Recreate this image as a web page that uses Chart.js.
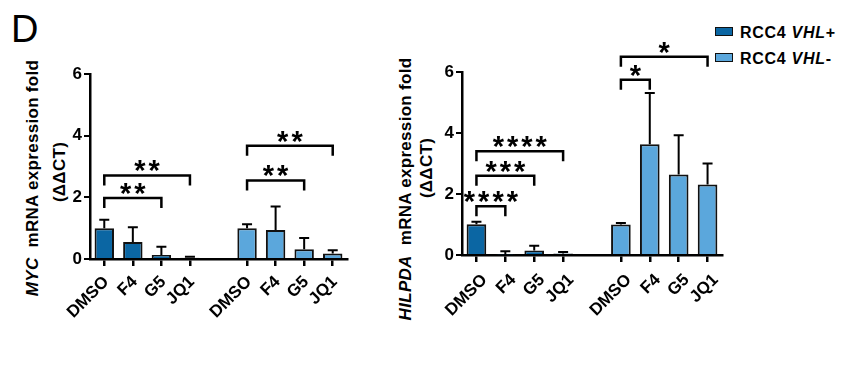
<!DOCTYPE html>
<html>
<head>
<meta charset="utf-8">
<script src="https://cdn.jsdelivr.net/npm/chart.js@4.4.1/dist/chart.umd.min.js"></script>
<style>
    html, body { margin: 0; padding: 0; background: #fff; }
    #fig { position: relative; width: 859px; height: 371px; overflow: hidden; font-family: "Liberation Sans", Arial, sans-serif; color: #000; }
    canvas { position: absolute; top: 0; }
    #c1 { left: 0; }
    #c2 { left: 380px; }
    .panel { position: absolute; left: 11px; top: 10px; font-size: 38px; line-height: 1; }
    .ytitle { position: absolute; white-space: nowrap; font-size: 17px; font-weight: bold; letter-spacing: 0.3px; line-height: 1; transform: translate(-50%, -50%) rotate(-90deg); }
    .legend { position: absolute; left: 715px; font-size: 16px; font-weight: bold; letter-spacing: 0.7px; line-height: 1; }
    .legend .box { display: inline-block; width: 16px; height: 7px; border: 1.5px solid #111; vertical-align: middle; margin-right: 7px; position: relative; top: -2px; }
</style>
</head>
<body>
<div id="fig">
    <div class="panel">D</div>
    <div class="ytitle" style="left:32px; top:178px;"><i>MYC</i>&nbsp; mRNA expression fold</div>
    <div class="ytitle" style="left:59px; top:172px;">(ΔΔCT)</div>
    <div class="ytitle" style="left:405px; top:189px;"><i>HILPDA</i>&nbsp; mRNA expression fold</div>
    <div class="ytitle" style="left:426px; top:168px;">(ΔΔCT)</div>
    <div class="legend" style="top:25px;"><span class="box" style="background:#0b66a3"></span>RCC4 <i>VHL</i>+</div>
    <div class="legend" style="top:51px;"><span class="box" style="background:#5ba7dc"></span>RCC4 <i>VHL</i>-</div>
    <canvas id="c1" width="420" height="371"></canvas>
    <canvas id="c2" width="479" height="371"></canvas>
</div>
<script>
// treatments per cell line, blank slot separates the two groups
const treatments = ['DMSO', 'F4', 'G5', 'JQ1'];
const categories = [...treatments, '', ...treatments];
const yTicks = [0, 2, 4, 6];

// MYC
const mycPlus = [1.0, 0.55, 0.13, 0.04];
const mycPlusErr = [0.27, 0.48, 0.27, 0.03];
const mycMinus = [1.0, 0.94, 0.32, 0.18];
const mycMinusErr = [0.13, 0.76, 0.36, 0.10];
// [from category, to category, y value, stars]
const mycBrackets = [[0, 2, 1.98, '**'], [0, 3, 2.71, '**'], [5, 7, 2.55, '**'], [5, 8, 3.67, '**']];

// HILPDA
const hilPlus = [1.01, 0.02, 0.15, 0.05];
const hilPlusErr = [0.08, 0.10, 0.15, 0.05];
const hilMinus = [1.0, 3.63, 2.64, 2.31];
const hilMinusErr = [0.05, 1.68, 1.29, 0.69];
const hilBrackets = [[0, 1, 1.6, '****'], [0, 2, 2.6, '***'], [0, 3, 3.4, '****'], [5, 6, 5.75, '*'], [5, 8, 6.5, '*']];

const seriesLabels = ['RCC4 VHL+', 'RCC4 VHL-'];
const darkBlue = '#0b66a3';
const lightBlue = '#5ba7dc';

const gap = [null];
const padLeft = vals => [...vals, ...gap, ...vals.map(() => null)];
const padRight = vals => [...vals.map(() => null), ...gap, ...vals];

const annotations = {
    id: 'annotations',
    afterDatasetsDraw(chart, args, opts) {
        const ctx = chart.ctx;
        const x = chart.scales.x, y = chart.scales.y;
        ctx.save();
        ctx.strokeStyle = '#000';
        ctx.lineWidth = 2;
        // error bars (upper only)
        chart.data.datasets.forEach((ds, di) => {
            const meta = chart.getDatasetMeta(di);
            ds.data.forEach((v, i) => {
                if (v == null) return;
                const bx = meta.data[i].x;
                const y0 = y.getPixelForValue(v);
                const y1 = y.getPixelForValue(v + ds.errors[i]);
                ctx.beginPath();
                ctx.moveTo(bx, y0);
                ctx.lineTo(bx, y1);
                ctx.moveTo(bx - 5, y1);
                ctx.lineTo(bx + 5, y1);
                ctx.stroke();
            });
        });
        // significance brackets
        ctx.lineWidth = 2.5;
        ctx.font = 'bold 29px "Liberation Sans", Arial';
        ctx.letterSpacing = '3px';
        ctx.textAlign = 'center';
        ctx.textBaseline = 'alphabetic';
        ctx.fillStyle = '#000';
        opts.brackets.forEach(([a, b, v, stars]) => {
            const xa = x.getPixelForValue(a), xb = x.getPixelForValue(b);
            const yy = y.getPixelForValue(v);
            ctx.beginPath();
            ctx.moveTo(xa, yy + 10);
            ctx.lineTo(xa, yy);
            ctx.lineTo(xb, yy);
            ctx.lineTo(xb, yy + 10);
            ctx.stroke();
            ctx.fillText(stars, (xa + xb) / 2 + 1.5, yy + 5);
        });
        ctx.restore();
    }
};

function makeChart(id, plus, plusErr, minus, minusErr, brackets, area) {
    const el = document.getElementById(id);
    return new Chart(el.getContext('2d'), {
        type: 'bar',
        data: {
            labels: categories,
            datasets: [
                { label: seriesLabels[0], data: padLeft(plus), errors: padLeft(plusErr), backgroundColor: darkBlue },
                { label: seriesLabels[1], data: padRight(minus), errors: padRight(minusErr), backgroundColor: lightBlue }
            ]
        },
        options: {
            responsive: false,
            devicePixelRatio: 1,
            animation: false,
            layout: { padding: { left: 0, top: area.top, right: el.width - area.right, bottom: el.height - area.bottom - 70 } },
            datasets: { bar: { grouped: false, barPercentage: 0.68, categoryPercentage: 1, borderColor: '#111', borderWidth: 2 } },
            plugins: { legend: { display: false }, tooltip: { enabled: false }, annotations: { brackets: brackets } },
            scales: {
                x: {
                    afterFit: s => { s.height = 70; },
                    grid: { offset: false, drawOnChartArea: false, tickLength: 7, lineWidth: 2.5, color: c => categories[c.index] === '' ? 'rgba(0,0,0,0)' : '#000' },
                    border: { color: '#000', width: 2.5 },
                    ticks: { color: '#000', autoSkip: false, minRotation: 45, maxRotation: 45, padding: area.labelPad, labelOffset: area.labelShift, font: { family: 'Liberation Sans', size: 17, weight: 'bold' } }
                },
                y: {
                    min: 0, max: 6,
                    afterFit: s => { s.width = area.left; },
                    afterBuildTicks: s => { s.ticks = yTicks.map(v => ({ value: v })); },
                    grid: { drawOnChartArea: false, tickLength: 6, lineWidth: 2, color: '#000' },
                    border: { color: '#000', width: 2.5 },
                    ticks: { color: '#000', padding: 2, font: { family: 'Liberation Sans', size: 17, weight: 'bold' } }
                }
            }
        },
        plugins: [annotations]
    });
}

makeChart('c1', mycPlus, mycPlusErr, mycMinus, mycMinusErr, mycBrackets, { left: 90, right: 347, top: 74, bottom: 259, labelPad: 6, labelShift: 2 });
makeChart('c2', hilPlus, hilPlusErr, hilMinus, hilMinusErr, hilBrackets, { left: 82, right: 342, top: 72, bottom: 255, labelPad: 8, labelShift: 8 });
</script>
</body>
</html>
